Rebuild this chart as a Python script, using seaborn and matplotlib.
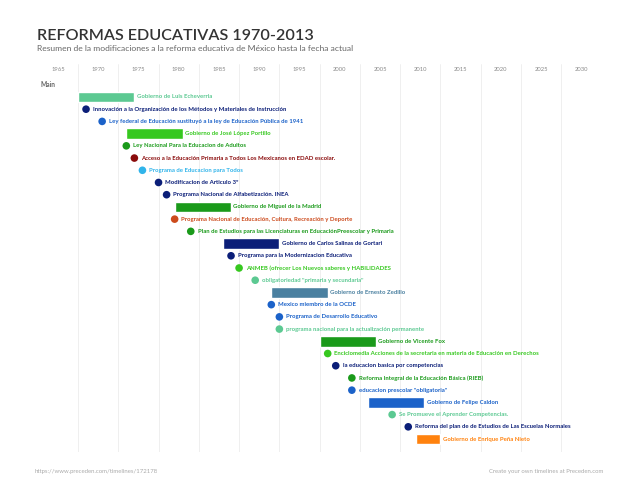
import matplotlib
matplotlib.use("Agg")
import matplotlib.pyplot as plt
import seaborn as sns
import pandas as pd

# datos de la linea de tiempo
eventos = [
    "Gobierno de Luis Echeverria",
    "Innovación a la Organización de los Métodos y Materiales de Instrucción",
    "Ley federal de Educación sustituyó a la ley de Educación Pública de 1941",
    "Gobierno de José López Portillo",
    "Ley Nacional Para la Educacion de Adultos",
    "Acceso a la Educación Primaria a Todos Los Mexicanos en EDAD escolar.",
    "Programa de Educacion para Todos",
    "Modificacion de Articulo 3º",
    "Programa Nacional de Alfabetización. INEA",
    "Gobierno de Miguel de la Madrid",
    "Programa Nacional de Educación, Cultura, Recreación y Deporte",
    "Plan de Estudios para las Licenciaturas en EducaciónPreescolar y Primaria",
    "Gobierno de Carlos Salinas de Gortari",
    "Programa para la Modernizacion Educativa",
    "ANMEB (ofrecer Los Nuevos saberes y HABILIDADES",
    "obligatoriedad \"primaria y secundaria\"",
    "Gobierno de Ernesto Zedillo",
    "Mexico miembro de la OCDE",
    "Programa de Desarrollo Educativo",
    "programa nacional para la actualización permanente",
    "Gobierno de Vicente Fox",
    "Enciclomedia Acciones de la secretaria en materia de Educación en Derechos",
    "la educacion basica por competencias",
    "Reforma Integral de la Educación Básica (RIEB)",
    "educacion prescolar \"obligatoria\"",
    "Gobierno de Felipe Caldon",
    "Se Promueve el Aprender Competencias.",
    "Reforma del plan de de Estudios de Las Escuelas Normales",
    "Gobierno de Enrique Peña Nieto",
]
anio_inicio = [1970, 1971, 1973, 1976, 1976, 1977, 1978, 1980, 1981, 1982,
               1982, 1984, 1988, 1989, 1990, 1992, 1994, 1994, 1995, 1995,
               2000, 2001, 2002, 2004, 2004, 2006, 2009, 2011, 2012]
# None = evento puntual
anio_fin = [1976, None, None, 1982, None, None, None, None, None, 1988,
            None, None, 1994, None, None, None, 2000, None, None, None,
            2006, None, None, None, None, 2012, None, None, 2014]
anios_eje = [1965, 1970, 1975, 1980, 1985, 1990, 1995, 2000, 2005, 2010,
             2015, 2020, 2025, 2030]

# colores
menta = "#5cc992"
marino = "#0b1e78"
azul = "#1b62c9"
verde_vivo = "#36c81f"
verde = "#1a9a1a"
rojo_oscuro = "#8a0b0b"
celeste = "#30b4ea"
ladrillo = "#cc4a1c"
acero = "#4a80a0"
naranja = "#ff820e"
colores = [menta, marino, azul, verde_vivo, verde, rojo_oscuro, celeste, marino,
           marino, verde, ladrillo, verde, marino, marino, verde_vivo, menta,
           acero, azul, azul, menta, verde, verde_vivo, marino, verde, azul,
           azul, menta, marino, naranja]

df = pd.DataFrame({"evento": eventos, "inicio": anio_inicio,
                   "fin": anio_fin, "color": colores})
df["fila"] = range(len(df))
periodos = df[df["fin"].notna()]
puntos = df[df["fin"].isna()]

sns.set_theme(style="white")
plt.rcParams["font.family"] = ["Lato", "DejaVu Sans"]

fig = plt.figure(figsize=(6.38, 4.93), dpi=100)
ax = fig.add_axes([0.0591, 0.0832, 0.8838, 0.787])

# lineas verticales cada 5 años
for a in anios_eje[1:] + [2035]:
    ax.axvline(a, color="#ededed", lw=0.6, zorder=0)

# periodos de gobierno
ax.barh(periodos["fila"], periodos["fin"] + 1 - periodos["inicio"],
        left=periodos["inicio"], height=0.86, color=periodos["color"], zorder=2)

# eventos puntuales
sns.scatterplot(data=puntos, x="inicio", y="fila", hue="evento",
                palette=dict(zip(puntos["evento"], puntos["color"])),
                s=30, edgecolor="none", legend=False, ax=ax, zorder=3)

for _, r in df.iterrows():
    if pd.notna(r["fin"]):
        x, dx = r["fin"] + 1, 1.6
    else:
        x, dx = r["inicio"], 4.9
    ax.annotate(r["evento"], (x, r["fila"]), xytext=(dx, 0),
                textcoords="offset points", va="center", ha="left",
                fontsize=4.35, color=r["color"], fontweight="bold", zorder=4)

for a in anios_eje:
    ax.text(a + 2.5, -2.21, str(a), ha="center", va="center",
            fontsize=4.2, color="#8a8a8a")
ax.text(1965.4, -1.0, "Main", ha="left", va="center", fontsize=4.8,
        color="#666666", fontweight="bold")

ax.set_xlim(1965, 2035)
ax.set_ylim(29.06, -2.70)
ax.set_xlabel("")
ax.set_ylabel("")
ax.set_xticks([])
ax.set_yticks([])
sns.despine(ax=ax, left=True, bottom=True)

fig.text(37.3 / 638, 1 - 40 / 493, "REFORMAS EDUCATIVAS 1970-2013",
         fontsize=11.6, fontweight="semibold", color="#333333",
         va="baseline", ha="left")
fig.text(37.3 / 638, 1 - 51 / 493,
         "Resumen de la modificaciones a la reforma educativa de México hasta la fecha actual",
         fontsize=6.1, color="#666666", va="baseline", ha="left")
fig.text(35 / 638, 1 - 471 / 493, "https://www.preceden.com/timelines/172178",
         fontsize=4.3, color="#aaaaaa", va="center", ha="left")
fig.text(603 / 638, 1 - 471 / 493, "Create your own timelines at Preceden.com",
         fontsize=4.3, color="#aaaaaa", va="center", ha="right")

fig.savefig("out.png", dpi=100)
